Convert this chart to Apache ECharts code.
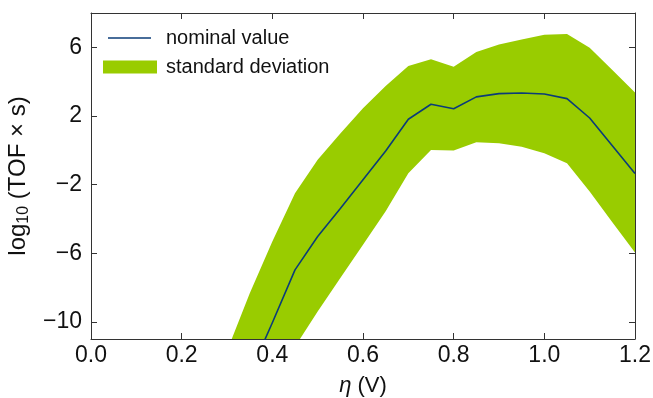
<!DOCTYPE html>
<html>
<head>
<meta charset="utf-8">
<script src="https://cdn.jsdelivr.net/npm/echarts@6/dist/echarts.min.js"></script>
<style>
  html, body { margin: 0; padding: 0; background: #fff; }
  #chart { width: 653px; height: 398px; }
</style>
</head>
<body>
<div id="chart"></div>
<script>
// Overpotential η (V)
const eta = [0.30, 0.35, 0.40, 0.45, 0.50, 0.55, 0.60, 0.65, 0.70, 0.75, 0.80,
             0.85, 0.90, 0.95, 1.00, 1.05, 1.10, 1.15, 1.20];
// log10(TOF × s): nominal value
const nominal = [-16.0, -13.05, -10.05, -6.97, -5.03, -3.40, -1.72, -0.04, 1.81, 2.68, 2.42,
                 3.11, 3.30, 3.34, 3.28, 3.01, 1.88, 0.26, -1.36];
// upper and lower edges of the standard-deviation band
const upper = [-11.7, -8.35, -5.32, -2.50, -0.55, 0.97, 2.45, 3.75, 4.91, 5.30, 4.87,
               5.73, 6.17, 6.46, 6.73, 6.77, 5.98, 4.68, 3.36];
const lower = [-17.5, -15.5, -13.5, -11.45, -9.40, -7.45, -5.50, -3.55, -1.34, 0.02, -0.02,
               0.47, 0.41, 0.21, -0.17, -0.76, -2.41, -4.20, -5.96];
const yTicks = [-10, -6, -2, 2, 6];

const FONT = 'Liberation Sans, Arial, Helvetica, sans-serif';
const AXIS_COLOR = '#333';
const LINE_COLOR = '#0b3c78';
const BAND_COLOR = '#99cc00';

const pairs = (ys) => eta.map((x, i) => [x, ys[i]]);
const bandData = eta.map((x, i) => [x, lower[i], upper[i]]);
const fmtY = (v) => (v < 0 ? '\u2212' + Math.abs(v) : String(v));

const chart = echarts.init(document.getElementById('chart'), null, { renderer: 'canvas' });

const tickCommon = { show: true, inside: true, length: 6, lineStyle: { color: AXIS_COLOR, width: 1 } };

// The band is one polygon: upper edge left→right, then lower edge right→left.
function renderBand(params, api) {
  if (params.dataIndex !== 0) return null;
  const top = [], bottom = [];
  for (let i = 0; i < bandData.length; i++) {
    top.push(api.coord([bandData[i][0], bandData[i][2]]));
    bottom.push(api.coord([bandData[i][0], bandData[i][1]]));
  }
  const cs = params.coordSys;
  return {
    type: 'group',
    clipPath: { type: 'rect', shape: { x: cs.x, y: cs.y, width: cs.width, height: cs.height } },
    children: [{
      type: 'polygon',
      shape: { points: top.concat(bottom.reverse()) },
      style: { fill: BAND_COLOR, stroke: null }
    }]
  };
}

chart.setOption({
  animation: false,
  backgroundColor: '#fff',
  grid: { left: 91, right: 18, top: 13, bottom: 59, containLabel: false, outerBoundsMode: 'none' },
  legend: [
    {
      data: [{ name: 'nominal value', icon: 'path://M0,0H43V1.6H0Z', itemStyle: { color: LINE_COLOR } }],
      left: 108, top: 28, padding: 0,
      itemWidth: 43, itemHeight: 14, symbolKeepAspect: true,
      textStyle: { fontFamily: FONT, fontSize: 20, color: '#111', padding: [0, 0, 0, 10] },
      selectedMode: false
    },
    {
      data: [{ name: 'standard deviation', icon: 'rect', itemStyle: { color: BAND_COLOR } }],
      left: 103, top: 57, padding: 0,
      itemWidth: 54, itemHeight: 13,
      textStyle: { fontFamily: FONT, fontSize: 20, color: '#111', padding: [0, 0, 0, 4] },
      selectedMode: false
    }
  ],
  xAxis: [
    {
      type: 'value', min: 0, max: 1.2, interval: 0.2, position: 'bottom',
      name: '{i|η} (V)', nameLocation: 'middle', nameGap: 36,
      nameTextStyle: {
        fontFamily: FONT, fontSize: 22, color: '#111',
        rich: { i: { fontFamily: FONT, fontSize: 22, fontStyle: 'italic', color: '#111' } }
      },
      axisLine: { show: true, onZero: false, lineStyle: { color: AXIS_COLOR, width: 1 } },
      axisTick: tickCommon,
      axisLabel: { fontFamily: FONT, fontSize: 23, color: '#111', margin: 5,
                   formatter: (v) => v.toFixed(1) },
      splitLine: { show: false }
    },
    {
      type: 'value', min: 0, max: 1.2, interval: 0.2, position: 'top',
      axisLine: { show: true, onZero: false, lineStyle: { color: AXIS_COLOR, width: 1 } },
      axisTick: tickCommon,
      axisLabel: { show: false },
      splitLine: { show: false }
    }
  ],
  yAxis: [
    {
      type: 'value', min: -11, max: 8, position: 'left',
      name: 'log{sub|10} (TOF × s)', nameLocation: 'middle', nameGap: 47, nameRotate: 90,
      nameTextStyle: {
        fontFamily: FONT, fontSize: 24, color: '#111',
        rich: { sub: { fontFamily: FONT, fontSize: 16, color: '#111', padding: [12, 0, 0, 0] } }
      },
      axisLine: { show: true, onZero: false, lineStyle: { color: AXIS_COLOR, width: 1 } },
      axisTick: Object.assign({}, tickCommon, { customValues: yTicks }),
      axisLabel: { fontFamily: FONT, fontSize: 23, color: '#111', margin: 9,
                   customValues: yTicks, formatter: fmtY },
      splitLine: { show: false }
    },
    {
      type: 'value', min: -11, max: 8, position: 'right',
      axisLine: { show: true, onZero: false, lineStyle: { color: AXIS_COLOR, width: 1 } },
      axisTick: Object.assign({}, tickCommon, { customValues: yTicks }),
      axisLabel: { show: false },
      splitLine: { show: false }
    }
  ],
  series: [
    {
      name: 'standard deviation',
      type: 'custom',
      data: bandData,
      encode: { x: 0, y: [1, 2] },
      renderItem: renderBand,
      itemStyle: { color: BAND_COLOR },
      silent: true, z: 1
    },
    {
      name: 'nominal value',
      type: 'line',
      data: pairs(nominal),
      symbol: 'none',
      color: LINE_COLOR,
      lineStyle: { color: LINE_COLOR, width: 1.6 },
      silent: true, clip: true, z: 3
    }
  ]
});
</script>
</body>
</html>
